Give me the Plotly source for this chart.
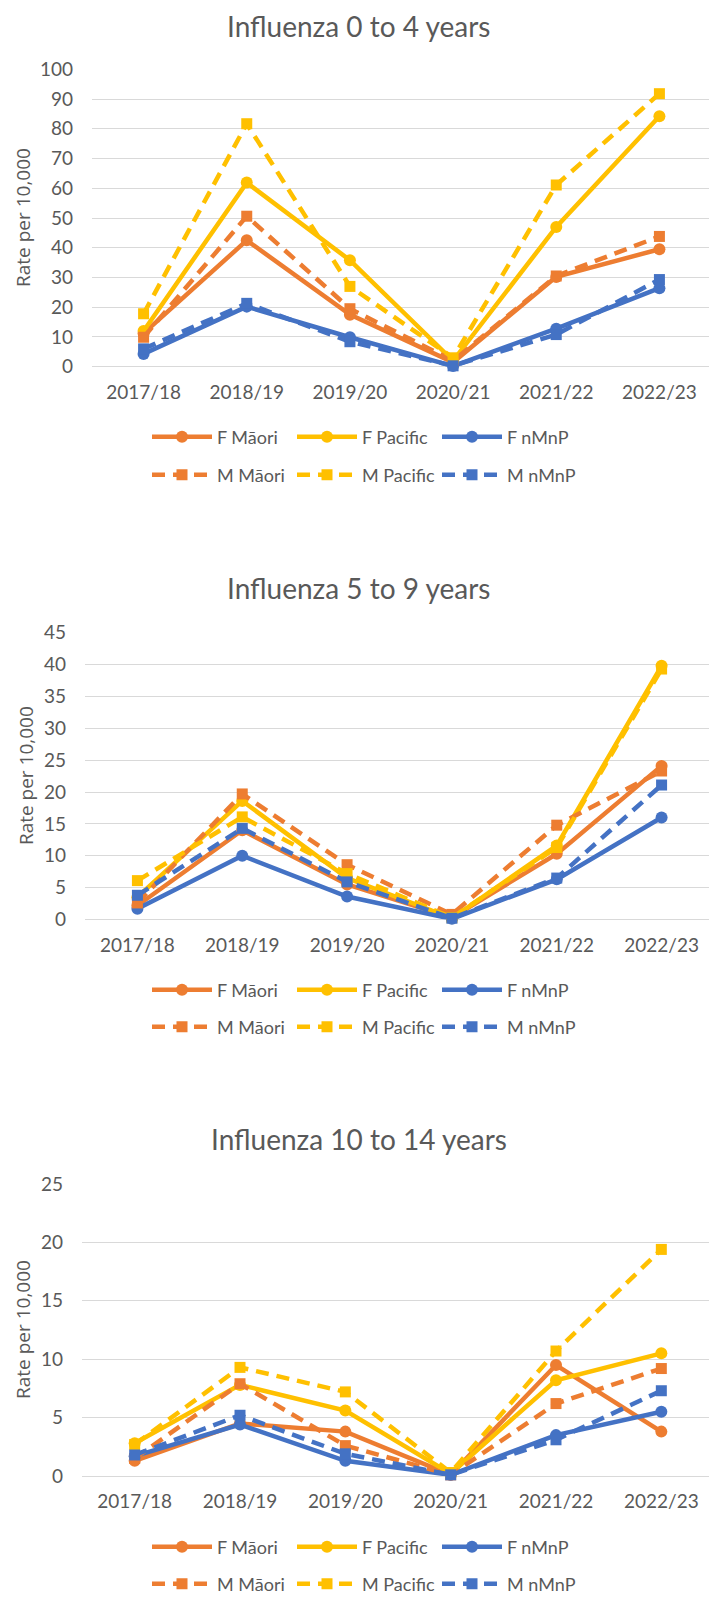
import plotly.graph_objects as go

# ---------------- data ----------------
years = ["2017/18", "2018/19", "2019/20", "2020/21", "2021/22", "2022/23"]
series_names = ["F Māori", "F Pacific", "F nMnP", "M Māori", "M Pacific", "M nMnP"]

# Influenza 0 to 4 years
a04_f_maori = [11.2, 42.5, 17.5, 1.5, 30.2, 39.5]
a04_f_pacific = [12.0, 61.9, 35.8, 2.0, 47.0, 84.2]
a04_f_nmnp = [4.3, 20.2, 9.9, 0.2, 12.8, 26.4]
a04_m_maori = [9.9, 50.6, 19.5, 2.0, 30.5, 43.8]
a04_m_pacific = [17.8, 81.7, 27.0, 3.0, 61.1, 91.8]
a04_m_nmnp = [6.0, 21.3, 8.4, 0.3, 10.8, 29.3]

# Influenza 5 to 9 years
a59_f_maori = [2.2, 14.0, 5.5, 0.3, 10.3, 24.1]
a59_f_pacific = [3.5, 18.6, 6.5, 0.2, 11.6, 39.8]
a59_f_nmnp = [1.7, 10.0, 3.6, 0.1, 6.3, 16.0]
a59_m_maori = [2.6, 19.7, 8.6, 0.8, 14.8, 23.3]
a59_m_pacific = [6.1, 16.1, 7.2, 0.3, 11.3, 39.3]
a59_m_nmnp = [3.8, 14.3, 5.9, 0.2, 6.5, 21.1]

# Influenza 10 to 14 years
a1014_f_maori = [1.3, 4.5, 3.8, 0.1, 9.5, 3.8]
a1014_f_pacific = [2.8, 7.8, 5.6, 0.2, 8.2, 10.5]
a1014_f_nmnp = [1.7, 4.4, 1.3, 0.1, 3.5, 5.5]
a1014_m_maori = [1.5, 7.9, 2.6, 0.1, 6.2, 9.2]
a1014_m_pacific = [2.7, 9.3, 7.2, 0.3, 10.7, 19.4]
a1014_m_nmnp = [1.8, 5.2, 1.9, 0.1, 3.1, 7.3]

titles = ["Influenza 0 to 4 years", "Influenza 5 to 9 years", "Influenza 10 to 14 years"]
y_max = [100, 45, 25]
y_step = [10, 5, 5]
y_title = "Rate per 10,000"

panel_series = [
    [a04_f_maori, a04_f_pacific, a04_f_nmnp, a04_m_maori, a04_m_pacific, a04_m_nmnp],
    [a59_f_maori, a59_f_pacific, a59_f_nmnp, a59_m_maori, a59_m_pacific, a59_m_nmnp],
    [a1014_f_maori, a1014_f_pacific, a1014_f_nmnp, a1014_m_maori, a1014_m_pacific, a1014_m_nmnp],
]

# ---------------- layout (page pixels; page body has an 8px margin) ----------------
PAGE_W, PAGE_H = 717, 1597
OFF = 8
W, H = PAGE_W - OFF, PAGE_H - OFF
layout_px = [
    dict(x0=92, x1=711, top=69.3, bot=366.7, title_y=26, leg1=437, leg2=475, ytitle_x=23),
    dict(x0=85, x1=714, top=632.7, bot=919.5, title_y=588, leg1=990, leg2=1027, ytitle_x=26),
    dict(x0=82, x1=714, top=1184, bot=1476, title_y=1139, leg1=1547, leg2=1584, ytitle_x=23),
]

colors = ["#ED7D31", "#FFC000", "#4472C4"]
TEXT = "#595959"
GRID = "#D9D9D9"
FONT = "Lato"


def px_x(p):
    return (p - OFF) / W


def px_y(p):
    return 1 - (p - OFF) / H


fig = go.Figure()
annotations = []

for i, (series, lp) in enumerate(zip(panel_series, layout_px)):
    ax = "" if i == 0 else str(i + 1)
    leg_f = "legend" if i == 0 else f"legend{2 * i + 1}"
    leg_m = f"legend{2 * i + 2}"
    for j, (name, vals) in enumerate(zip(series_names, series)):
        is_m = j >= 3
        fig.add_trace(go.Scatter(
            x=years, y=vals, name=name, mode="lines+markers",
            xaxis="x" + ax, yaxis="y" + ax,
            legend=leg_m if is_m else leg_f,
            line=dict(color=colors[j % 3], width=4.5, dash="13px,8px" if is_m else "solid"),
            marker=dict(symbol="square" if is_m else "circle", size=11 if is_m else 12,
                        color=colors[j % 3]),
            cliponaxis=False,
        ))
    fig.update_layout(**{
        "xaxis" + ax: dict(
            domain=[px_x(lp["x0"]), px_x(lp["x1"])], anchor="y" + ax, type="category",
            range=[-0.5, 5.5], showgrid=False, showline=False, zeroline=False,
            ticks="", ticklabelstandoff=12, automargin=False,
            tickfont=dict(family=FONT, size=19, color=TEXT),
        ),
        "yaxis" + ax: dict(
            domain=[px_y(lp["bot"]), px_y(lp["top"])], anchor="x" + ax,
            range=[0, y_max[i]], dtick=y_step[i], tick0=0,
            showgrid=True, gridcolor=GRID, gridwidth=1.3,
            zeroline=True, zerolinecolor=GRID, zerolinewidth=1.3,
            showline=False, ticks="", ticklabelstandoff=18, automargin=False,
            tickfont=dict(family=FONT, size=19, color=TEXT),
        ),
    })
    for k, (leg, ly) in enumerate([(leg_f, lp["leg1"]), (leg_m, lp["leg2"])]):
        fig.update_layout(**{leg: dict(
            orientation="h", x=px_x(PAGE_W / 2 + 6), xanchor="center",
            y=px_y(ly), yanchor="middle",
            font=dict(family=FONT, size=18, color=TEXT), bgcolor="rgba(0,0,0,0)",
            itemwidth=60, entrywidth=70, traceorder="normal",
        )})
    annotations.append(dict(
        text=titles[i], x=px_x(PAGE_W / 2), y=px_y(lp["title_y"]), xref="paper", yref="paper",
        xanchor="center", yanchor="middle", showarrow=False,
        font=dict(family=FONT, size=28, color=TEXT),
    ))
    annotations.append(dict(
        text=y_title, x=px_x(lp["ytitle_x"]), y=px_y((lp["top"] + lp["bot"]) / 2),
        xref="paper", yref="paper", xanchor="center", yanchor="middle",
        showarrow=False, textangle=-90,
        font=dict(family="Open Sans", size=19, color=TEXT),
    ))

fig.update_layout(
    width=W, height=H, margin=dict(l=0, r=0, t=0, b=0, autoexpand=False),
    paper_bgcolor="white", plot_bgcolor="white",
    showlegend=True, annotations=annotations,
)

fig.write_html("out.html")
